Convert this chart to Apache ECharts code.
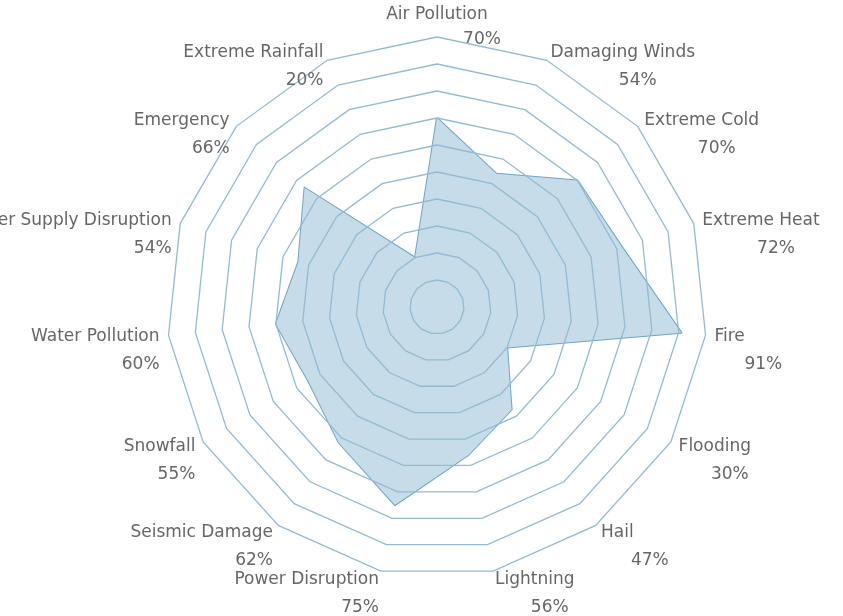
<!DOCTYPE html>
<html>
<head>
<meta charset="utf-8">
<title>Hazard shares</title>
<script src="https://cdn.jsdelivr.net/npm/echarts@6/dist/echarts.min.js"></script>
<style>
  html, body { margin: 0; padding: 0; background: #fff; }
  #chart { width: 843px; height: 616px; }
</style>
</head>
<body>
<div id="chart"></div>
<script>
// hazards, clockwise from the top
const hazards = [
  'Air Pollution', 'Damaging Winds', 'Extreme Cold', 'Extreme Heat', 'Fire',
  'Flooding', 'Hail', 'Lightning', 'Power Disruption', 'Seismic Damage',
  'Snowfall', 'Water Pollution', 'Water Supply Disruption', 'Emergency', 'Extreme Rainfall'
];
const shares = [70, 54, 70, 72, 91, 30, 47, 56, 75, 62, 55, 60, 54, 66, 20];
const shareMax = 100;

// echarts walks the indicators counter-clockwise, so keep the first and reverse the rest
const order = [0].concat(hazards.map((h, i) => i).slice(1).reverse());
const names = order.map(i => hazards[i]);
const values = order.map(i => shares[i]);

const labelFont = 'DejaVu Sans';
const labelColor = '#666';

const chart = echarts.init(document.getElementById('chart'));
const center = [437, 307];
const radius = 270;

const hidden = {
  axisLine: {show: false},
  axisTick: {show: false},
  axisLabel: {show: false},
  splitLine: {show: false},
  splitArea: {show: false}
};

const option = {
  animation: false,
  backgroundColor: '#fff',
  radar: [
    {
      // the grid and every name except the top one
      center: center,
      radius: radius,
      startAngle: 90,
      splitNumber: 10,
      shape: 'polygon',
      z: 3,
      nameGap: 9,
      indicator: names.map((n, k) => ({name: k === 0 ? '' : n, min: 0, max: shareMax})),
      axisName: {
        color: labelColor,
        fontFamily: labelFont,
        fontSize: 17,
        padding: [36, 0, 0, 0],
        formatter: function (name) {
          if (!name) return '';
          const i = hazards.indexOf(name);
          const side = i <= 7 ? 'r' : 'l';
          return '{n|' + name + '}\n{' + side + '|' + shares[i] + '%}';
        },
        rich: {
          n: {fontFamily: labelFont, fontSize: 17, lineHeight: 20, color: labelColor},
          r: {fontFamily: labelFont, fontSize: 17, lineHeight: 36, color: labelColor, align: 'center', padding: [0, 0, 0, 30]},
          l: {fontFamily: labelFont, fontSize: 17, lineHeight: 36, color: labelColor, align: 'right'}
        }
      },
      axisLine: {show: false},
      axisTick: {show: false},
      axisLabel: {show: false},
      splitArea: {show: false},
      splitLine: {lineStyle: {color: '#92bbd3', width: 1.3}}
    },
    Object.assign({
      // top name only, its two lines run downwards
      center: center,
      radius: radius,
      startAngle: 90,
      shape: 'polygon',
      nameGap: 32,
      indicator: names.map((n, k) => ({name: k === 0 ? n : '', min: 0, max: shareMax})),
      axisName: {
        color: labelColor,
        fontFamily: labelFont,
        fontSize: 17,
        verticalAlign: 'top',
        formatter: function (name) {
          if (!name) return '';
          const i = hazards.indexOf(name);
          return '{n|' + name + '}\n{t|' + shares[i] + '%}';
        },
        rich: {
          n: {fontFamily: labelFont, fontSize: 17, lineHeight: 20, color: labelColor},
          t: {fontFamily: labelFont, fontSize: 17, lineHeight: 30, color: labelColor, align: 'center', padding: [0, 0, 0, 90]}
        }
      }
    }, hidden)
  ],
  series: [
    {
      type: 'radar',
      radarIndex: 0,
      z: 1,
      symbol: 'none',
      lineStyle: {color: '#6fa4c5', width: 2},
      areaStyle: {color: '#c6dce8', opacity: 1},
      data: [{value: values, name: 'Share'}]
    }
  ]
};

chart.setOption(option);
</script>
</body>
</html>
